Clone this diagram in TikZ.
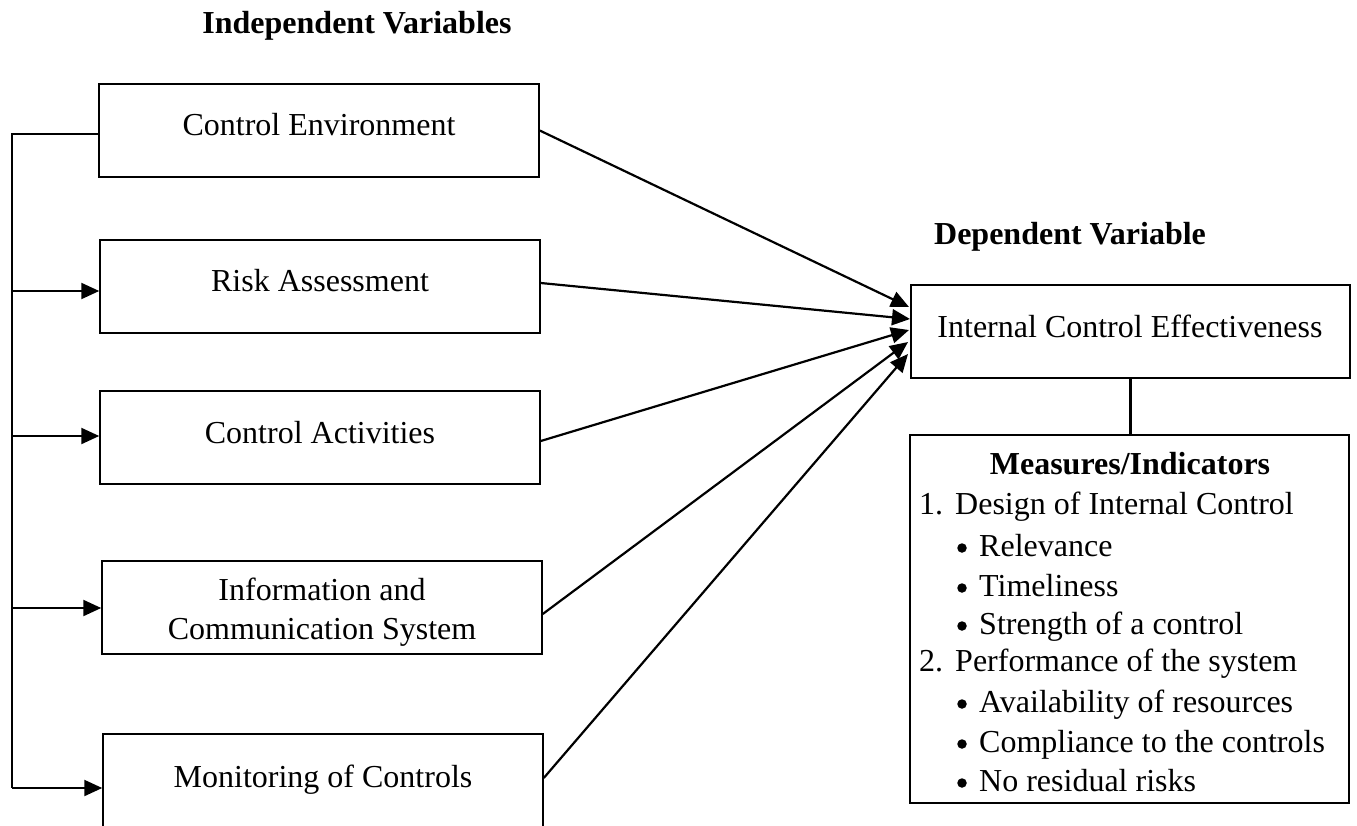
\documentclass[tikz,border=0pt]{standalone}
\usepackage{fontspec}
\setmainfont{Liberation Serif}
\usetikzlibrary{arrows.meta}
\begin{document}
\begin{tikzpicture}[x=1pt,y=-1pt,
  font=\fontsize{32pt}{39pt}\selectfont,
  box/.style={draw=black,line width=1.5pt,minimum width=440pt,minimum height=93pt,inner sep=0pt},
  label/.style={anchor=base,inner sep=0pt},
  item/.style={anchor=base west,inner sep=0pt},
  dot/.style={circle,fill=black,inner sep=0pt,minimum size=9.5pt},
  conn/.style={line width=2.2pt},
  arr/.style={conn,-{Triangle[length=18pt,width=16pt]}},
  heading/.style={anchor=base,inner sep=0pt,font=\fontsize{32pt}{39pt}\selectfont\bfseries}]
\useasboundingbox (0,0) rectangle (1357,825);

% headings
\node[heading] (indep) at (357,33) {Independent Variables};
\node[heading] (dep) at (1070,244) {Dependent Variable};

% independent variable boxes
\node[box] (ce) at (319,130.5) {};
\node[box] (ra) at (320,286.5) {};
\node[box] (ca) at (320,437.5) {};
\node[box] (ics) at (322,607.5) {};
\node[box] (mc) at (323,780.5) {};
\node[label] (ceT) at (319,135) {Control Environment};
\node[label] (raT) at (320,291) {Risk Assessment};
\node[label] (caT) at (320,443) {Control Activities};
\node[label] (icsT1) at (322,600) {Information and};
\node[label] (icsT2) at (322,639) {Communication System};
\node[label] (mcT) at (323,787) {Monitoring of Controls};

% dependent variable and its measures
\node[box,minimum width=439pt] (ice) at (1130.5,331.5) {};
\node[label] (iceT) at (1130,337) {Internal Control Effectiveness};
\node[box,minimum width=439pt,minimum height=368pt] (mi) at (1129.5,619) {};
\node[heading] (miT) at (1130,474) {Measures/Indicators};
\node[item] (n1) at (919,514) {1.};
\node[item] (d1) at (955,514) {Design of Internal Control};
\node[dot] (b1) at (962,548) {}; \node[item] (d1a) at (979,556) {Relevance};
\node[dot] (b2) at (962,588) {}; \node[item] (d1b) at (979,596) {Timeliness};
\node[dot] (b3) at (962,626) {}; \node[item] (d1c) at (979,634) {Strength of a control};
\node[item] (n2) at (919,671) {2.};
\node[item] (d2) at (955,671) {Performance of the system};
\node[dot] (b4) at (962,704) {}; \node[item] (d2a) at (979,712) {Availability of resources};
\node[dot] (b5) at (962,744) {}; \node[item] (d2b) at (979,752) {Compliance to the controls};
\node[dot] (b6) at (962,783) {}; \node[item] (d2c) at (979,791) {No residual risks};
\draw[conn] (ice.south) -- (ice.south |- mi.north);

% feedback bus on the left
\coordinate (busTop) at (12,134);
\coordinate (busBot) at (12,788);
\coordinate (j2) at (12,291);
\coordinate (j3) at (12,436);
\coordinate (j4) at (12,608);
\draw[conn] ([yshift=-3.5pt]ce.west) -- (busTop) -- (busBot);
\draw[arr] (j2) -- (j2 -| ra.west);
\draw[arr] (j3) -- (j3 -| ca.west);
\draw[arr] (j4) -- (j4 -| ics.west);
\draw[arr] (busBot) -- (busBot -| mc.west);

% arrows into the dependent variable
\coordinate (t1) at (909,307);
\coordinate (t2) at (910,319);
\coordinate (t3) at (909,330);
\coordinate (t4) at (908,342);
\coordinate (t5) at (908,354);
\draw[arr] (ce.east) -- (t1);
\draw[arr] ([yshift=3.5pt]ra.east) -- (t2);
\draw[arr] ([yshift=-3.5pt]ca.east) -- (t3);
\draw[arr] ([yshift=-6.5pt]ics.east) -- (t4);
\draw[arr] ([yshift=2.5pt]mc.east) -- (t5);
\end{tikzpicture}
\end{document}
